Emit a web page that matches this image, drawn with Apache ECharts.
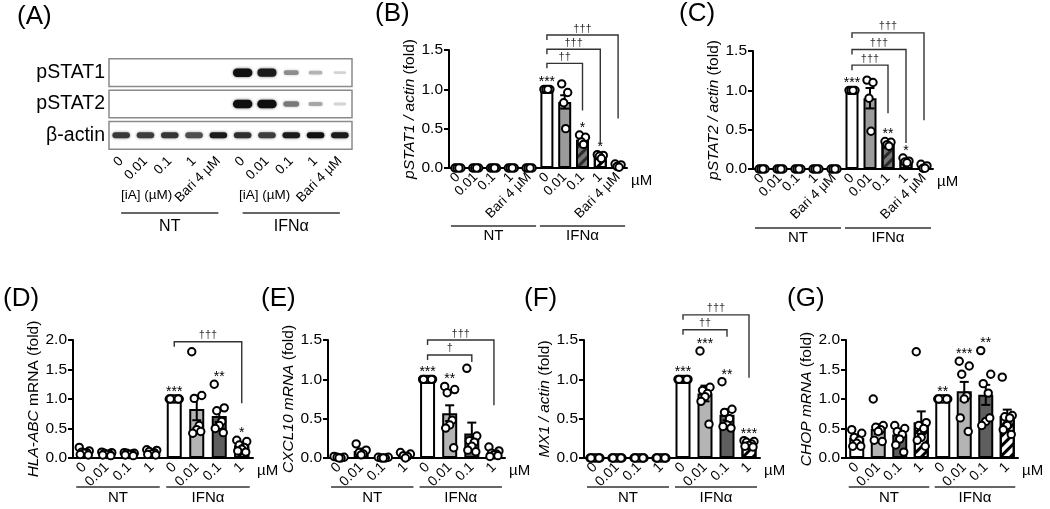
<!DOCTYPE html>
<html><head><meta charset="utf-8">
<script src="https://cdn.jsdelivr.net/npm/echarts@6/dist/echarts.min.js"></script>
<style>html,body{margin:0;padding:0;background:#fff}#c{width:1050px;height:509px}</style>
</head><body><div id="c"></div>
<script>
// ================= DATA =================
// Panel A: western blot band intensities (0 = no band, 1 = darkest)
const blotLanes = ['0','0.01','0.1','1','Bari 4 µM','0','0.01','0.1','1','Bari 4 µM'];
const blotRows = ['pSTAT1','pSTAT2','β-actin'];
const bandPSTAT1 = [0,0,0,0,0,1.0,0.95,0.4,0.22,0.06];
const bandPSTAT2 = [0,0,0,0,0,1.0,1.0,0.5,0.28,0.06];
const bandActin  = [0.8,0.78,0.82,0.7,0.95,0.85,0.78,0.95,1.0,0.95];
const groupNames = ['NT','IFNα'];

// Panels B, C categories
const catsTop = ['0','0.01','0.1','1','Bari 4 µM','0','0.01','0.1','1','Bari 4 µM'];
// Panel B: pSTAT1 / actin
const meanB = [0,0,0,0,0,1.0,0.84,0.36,0.15,0.03];
const semB  = [0,0,0,0,0,0,0.085,0.03,0.015,0.01];
const ptsB = [[0,0,0,0],[0,0,0,0],[0,0,0,0],[0,0,0,0],[0,0,0,0],
  [1,1,1,1],[1.07,0.96,0.83,0.5],[0.42,0.39,0.33,0.3],[0.17,0.16,0.15,0.12],[0.05,0.04,0.02,0.01]];
const starsB = ['','','','','','***','','*','*',''];
const bracketsB = [[5,7,1.33,0.73],[5,8,1.51,0.31],[5,9,1.69,0.63]];
const bracketTextB = ['††','†††','†††'];

// Panel C: pSTAT2 / actin
const meanC = [0,0,0,0,0,1.0,0.9,0.32,0.1,0.03];
const semC  = [0,0,0,0,0,0,0.13,0.02,0.015,0.012];
const ptsC = [[0,0,0,0],[0,0,0,0],[0,0,0,0],[0,0,0,0],[0,0,0,0],
  [1,1,1,1],[1.13,1.1,0.9,0.48],[0.35,0.34,0.31,0.29],[0.14,0.1,0.09,0.08],[0.06,0.04,0.01,0.01]];
const starsC = ['','','','','','***','','**','*',''];
const bracketsC = [[5,7,1.32,0.71],[5,8,1.52,0.33],[5,9,1.73,0.62]];
const bracketTextC = ['†††','†††','†††'];

// Panels D-G categories
const catsBottom = ['0','0.01','0.1','1','0','0.01','0.1','1'];
// Panel D: HLA-ABC mRNA
const meanD = [0.1,0.07,0.07,0.09,1.0,0.83,0.71,0.21];
const semD  = [0.02,0.01,0.01,0.015,0,0.19,0.1,0.03];
const ptsD = [[0.18,0.12,0.1,0.09,0.08,0.06,0.05],[0.1,0.09,0.08,0.07,0.06,0.05,0.04],
  [0.09,0.08,0.08,0.07,0.06,0.05,0.04],[0.14,0.13,0.11,0.09,0.07,0.06,0.05],
  [1,1,1,1,1,1,1],[1.8,1.06,1.01,0.55,0.48,0.42,0.45],[1.25,0.85,0.8,0.62,0.55,0.5,0.43],
  [0.3,0.28,0.22,0.18,0.15,0.12,0.1]];
const starsD = ['','','','','***','','**','*'];
const bracketsD = [[4,7,1.97,0.93]];
const bracketTextD = ['†††'];

// Panel E: CXCL10 mRNA
const meanE = [0.01,0.09,0.01,0.03,1.0,0.57,0.31,0.06];
const semE  = [0.005,0.03,0.003,0.012,0,0.1,0.14,0.02];
const ptsE = [[0.02,0.01,0.01,0,0],[0.18,0.1,0.07,0.05,0.04],[0.01,0.01,0,0,0],[0.07,0.05,0.03,0.02,0],
  [1,1,1,1,1,1,1],[0.91,0.87,0.83,0.48,0.42,0.38,0.13],[1.14,0.28,0.22,0.2,0.15,0.1,0.08],
  [0.14,0.09,0.06,0.05,0.04,0.02,0.03]];
const starsE = ['','','','','***','**','',''];
const bracketsE = [[4,6,1.31,1.22],[4,7,1.5,0.67]];
const bracketTextE = ['†','†††'];

// Panel F: MX1 / actin
const meanF = [0,0,0,0,1.0,0.82,0.55,0.18];
const semF  = [0,0,0,0,0,0.1,0.07,0.015];
const ptsF = [[0,0,0,0,0,0,0],[0,0,0,0,0,0,0],[0,0,0,0,0,0,0],[0,0,0,0,0,0,0],
  [1,1,1,1,1,1,1],[1.36,0.9,0.86,0.82,0.78,0.72,0.43],[0.97,0.62,0.58,0.5,0.42,0.4,0.38],
  [0.22,0.21,0.2,0.18,0.16,0.15,0.14]];
const starsF = ['','','','','***','***','**','***'];
const bracketsF = [[4,6,1.63,1.54],[4,7,1.82,1.02]];
const bracketTextF = ['††','†††'];

// Panel G: CHOP mRNA
const meanG = [0.34,0.49,0.4,0.6,1.0,1.13,1.07,0.71];
const semG  = [0.05,0.08,0.07,0.19,0,0.16,0.17,0.11];
const ptsG = [[0.48,0.42,0.35,0.3,0.25,0.2,0.2],[1.0,0.55,0.52,0.48,0.45,0.3,0.28],
  [0.55,0.5,0.45,0.4,0.32,0.22,0.1],[1.8,0.6,0.55,0.5,0.35,0.3,0.2],
  [1,1,1,1,1,1,1],[1.64,1.56,1.42,1.05,1.0,0.68,0.45],[1.82,1.42,1.26,1.1,0.62,0.55,0.68],
  [1.37,0.72,0.7,0.68,0.55,0.48,0.4]];
const starsG = ['','','','','**','***','**',''];

// ================= STYLE / LAYOUT =================
const FONT = '"Liberation Sans", Arial, Helvetica, sans-serif';
const hatch = (c) => ({symbol:'rect', symbolSize:1, color:c, dashArrayX:[1,0], dashArrayY:[3,3.5], rotation:-Math.PI/4});
const STY = {
  white:{color:'#ffffff'},
  gray:{color:'#9b9b9b'},
  light:{color:'#b4b4b4'},
  dark:{color:'#5e5e5e'},
  darkHatch:{color:'#777777', decal:hatch('#2a2a2a')},
  whiteHatch:{color:'#ffffff', decal:hatch('#000000')}
};
const FILL_TOP = ['white','gray','darkHatch','whiteHatch','white','white','gray','darkHatch','whiteHatch','white'];
const FILL_BOT = ['white','light','dark','whiteHatch','white','light','dark','whiteHatch'];
const JIT = {4:[-3,3,-1,1],5:[-5,5,-2,2,0],7:[-5,5,-2.5,2.5,0,-4,4]};

const grids=[], xAxes=[], yAxes=[], series=[];

function addPanel(p) {
  const gi = grids.length;
  grids.push({left:p.left, top:p.top, width:p.width, height:p.height, containLabel:false});
  xAxes.push({gridIndex:gi, type:'category', data:p.cats,
    axisLine:{lineStyle:{color:'#000', width:2}}, axisTick:{show:false},
    axisLabel:{rotate:45, interval:0, fontSize:p.catFont, color:'#000', fontFamily:FONT, margin:7},
    name:'µM', nameLocation:'end', nameGap:4,
    nameTextStyle:{fontSize:15, color:'#000', fontFamily:FONT, verticalAlign:'top', padding:[5,0,0,0]}});
  yAxes.push({gridIndex:gi, type:'value', min:0, max:p.ymax, interval:0.5,
    splitLine:{show:false},
    axisLine:{show:true, lineStyle:{color:'#000', width:2}},
    axisTick:{show:true, length:5, lineStyle:{color:'#000', width:2}},
    axisLabel:{formatter:v=>v.toFixed(1), fontSize:15.5, color:'#000', fontFamily:FONT, margin:6},
    name:p.yname, nameLocation:'middle', nameGap:26,
    nameTextStyle:{fontSize:15.5, color:'#000', fontFamily:FONT,
      rich:{i:{fontStyle:'italic', fontSize:15.5, color:'#000', fontFamily:FONT}}}});
  // bars
  series.push({type:'bar', xAxisIndex:gi, yAxisIndex:gi, barWidth:p.barWidth, silent:true, z:2,
    data:p.mean.map((v,i)=>({value:v, itemStyle:Object.assign({borderColor:'#000', borderWidth:2}, STY[p.fills[i]])}))});
  // error bars (mean ± SEM)
  series.push({type:'custom', xAxisIndex:gi, yAxisIndex:gi, silent:true, z:3,
    data:p.mean.map((m,i)=>[i,m,p.sem[i]]),
    renderItem:(params,api)=>{
      const s = api.value(2); if (!s) return null;
      const i = api.value(0), m = api.value(1);
      const t = api.coord([i,m+s]), b = api.coord([i,Math.max(0,m-s)]);
      const st = {stroke:'#000', lineWidth:2};
      return {type:'group', children:[
        {type:'line', shape:{x1:t[0],y1:t[1],x2:b[0],y2:b[1]}, style:st},
        {type:'line', shape:{x1:t[0]-4.5,y1:t[1],x2:t[0]+4.5,y2:t[1]}, style:st},
        {type:'line', shape:{x1:b[0]-4.5,y1:b[1],x2:b[0]+4.5,y2:b[1]}, style:st}]};
    }});
  // individual points
  const pd=[]; p.pts.forEach((arr,i)=>arr.forEach((v,k)=>pd.push([i,v,k,arr.length])));
  series.push({type:'custom', xAxisIndex:gi, yAxisIndex:gi, silent:true, z:4, clip:false, data:pd,
    renderItem:(params,api)=>{
      const c = api.coord([api.value(0), api.value(1)]);
      const off = (JIT[api.value(3)]||JIT[7])[api.value(2)]||0;
      return {type:'circle', shape:{cx:c[0]+off, cy:c[1], r:3.7}, style:{fill:'#fff', stroke:'#000', lineWidth:2}};
    }});
  // significance stars
  const sd=[]; p.stars.forEach((s,i)=>{ if(s) sd.push([i, Math.max(Math.max.apply(null,p.pts[i]), p.mean[i]+p.sem[i])]); });
  series.push({type:'custom', xAxisIndex:gi, yAxisIndex:gi, silent:true, z:5, clip:false, data:sd,
    renderItem:(params,api)=>{
      const i = api.value(0); const c = api.coord([i, api.value(1)]);
      return {type:'text', x:c[0], y:c[1]-7, style:{text:p.stars[i], fill:'#000', font:'14px '+FONT, align:'center', verticalAlign:'middle'}};
    }});
  // brackets
  if (p.brackets) {
    series.push({type:'custom', xAxisIndex:gi, yAxisIndex:gi, silent:true, z:5, clip:false,
      data:p.brackets.map((b,k)=>[b[0],b[2],b[1],b[3],k]),
      renderItem:(params,api)=>{
        const f=api.value(0), top=api.value(1), to=api.value(2), end=api.value(3), k=api.value(4);
        const a=api.coord([f,top]), b=api.coord([to,top]), e=api.coord([to,end]);
        return {type:'group', children:[
          {type:'polyline', shape:{points:[[a[0],a[1]+5],[a[0],a[1]],[b[0],b[1]],[e[0],e[1]]]}, style:{stroke:'#333', lineWidth:1.4, fill:null}},
          {type:'text', x:(a[0]+b[0])/2, y:a[1]-1, style:{text:p.bracketText[k], fill:'#333', font:'11px '+FONT, align:'center', verticalAlign:'bottom'}}]};
      }});
  }
  addGroups(gi, p.cats.length, p.grp);
}

function addGroups(gi, n, g) {
  const h = n/2;
  series.push({type:'custom', xAxisIndex:gi, yAxisIndex:gi, silent:true, clip:false, z:5,
    data:[[0,h-1,0],[h,n-1,1]],
    renderItem:(params,api)=>{
      const a=api.coord([api.value(0),0]), b=api.coord([api.value(1),0]);
      const cs=params.coordSys; const y=cs.y+cs.height+g.line;
      return {type:'group', children:[
        {type:'line', shape:{x1:a[0]-g.ext,y1:y,x2:b[0]+g.ext,y2:y}, style:{stroke:'#333', lineWidth:1.5}},
        {type:'text', x:(a[0]+b[0])/2, y:y+g.text, style:{text:groupNames[api.value(2)], fill:'#000', font:g.font+'px '+FONT, align:'center', verticalAlign:'top'}}]};
    }});
}

// ----- Panel A: blot grid -----
grids.push({left:109, top:57, width:243, height:94, containLabel:false});
xAxes.push({gridIndex:0, type:'category', data:blotLanes, axisLine:{show:false}, axisTick:{show:false},
  axisLabel:{rotate:45, interval:0, fontSize:13.5, color:'#000', fontFamily:FONT, margin:8}});
yAxes.push({gridIndex:0, type:'category', data:blotRows, inverse:true, axisLine:{show:false}, axisTick:{show:false},
  axisLabel:{fontSize:19.5, color:'#000', fontFamily:FONT, margin:4}});
const bandData=[];
[bandPSTAT1,bandPSTAT2,bandActin].forEach((row,r)=>row.forEach((v,l)=>bandData.push([l,r,v])));
series.push({type:'custom', xAxisIndex:0, yAxisIndex:0, silent:true, z:2, data:[[0,0],[0,1],[0,2]],
  renderItem:(params,api)=>{
    const c=api.coord([0,api.value(1)]); const h=api.size([1,1])[1]; const cs=params.coordSys;
    return {type:'rect', shape:{x:cs.x, y:c[1]-h/2+1.8, width:cs.width, height:h-3.6}, style:{fill:'#fff', stroke:'#8a8a8a', lineWidth:1.5}};
  }});
series.push({type:'custom', xAxisIndex:0, yAxisIndex:0, silent:true, z:3, data:bandData,
  renderItem:(params,api)=>{
    const v=api.value(2); if (v<=0) return null;
    const r=api.value(1); const c=api.coord([api.value(0), r]); const sz=api.size([1,1]);
    const actin = r===2;
    const w = sz[0]*(actin?0.72:(0.5+0.3*v));
    const h = actin?6:(2.5+6*v);
    const g = Math.round(15+(1-v)*210);
    return {type:'rect', shape:{x:c[0]-w/2, y:c[1]-h/2, width:w, height:h, r:h/2},
      style:{fill:'rgb('+g+','+g+','+g+')', shadowBlur:3, shadowColor:'rgba(0,0,0,'+(0.6*v)+')'}};
  }});
addGroups(0, blotLanes.length, {line:62, ext:0, text:6, font:16});

// ----- Panels B-G -----
addPanel({left:449, top:50, width:178, height:118, ymax:1.5, cats:catsTop, catFont:13.5, barWidth:13, fills:FILL_TOP,
  yname:'{i|pSTAT1 / actin} (fold)', mean:meanB, sem:semB, pts:ptsB, stars:starsB, brackets:bracketsB, bracketText:bracketTextB,
  grp:{line:58, ext:7, text:2, font:15}});
addPanel({left:753, top:51, width:180, height:118, ymax:1.5, cats:catsTop, catFont:13.5, barWidth:13, fills:FILL_TOP,
  yname:'{i|pSTAT2 / actin} (fold)', mean:meanC, sem:semC, pts:ptsC, stars:starsC, brackets:bracketsC, bracketText:bracketTextC,
  grp:{line:59, ext:7, text:2, font:15}});
const GB = {line:29, ext:8, text:3, font:15};
addPanel({left:73, top:340, width:180, height:118, ymax:2.0, cats:catsBottom, catFont:14, barWidth:15, fills:FILL_BOT,
  yname:'{i|HLA-ABC} mRNA (fold)', mean:meanD, sem:semD, pts:ptsD, stars:starsD, brackets:bracketsD, bracketText:bracketTextD, grp:GB});
addPanel({left:328, top:340, width:177, height:118, ymax:1.5, cats:catsBottom, catFont:14, barWidth:15, fills:FILL_BOT,
  yname:'{i|CXCL10 mRNA} (fold)', mean:meanE, sem:semE, pts:ptsE, stars:starsE, brackets:bracketsE, bracketText:bracketTextE, grp:GB});
addPanel({left:584, top:340, width:176, height:118, ymax:1.5, cats:catsBottom, catFont:14, barWidth:15, fills:FILL_BOT,
  yname:'{i|MX1 / actin} (fold)', mean:meanF, sem:semF, pts:ptsF, stars:starsF, brackets:bracketsF, bracketText:bracketTextF, grp:GB});
addPanel({left:846, top:340, width:172, height:118, ymax:2.0, cats:catsBottom, catFont:14, barWidth:15, fills:FILL_BOT,
  yname:'{i|CHOP mRNA} (fold)', mean:meanG, sem:semG, pts:ptsG, stars:starsG, grp:GB});

const txt = (t,x,y,size) => ({type:'text', left:x, top:y, silent:true, style:{text:t, font:size+'px '+FONT, fill:'#000'}});
const graphic = [
  txt('(A)',17,4,26), txt('(B)',375,1,26), txt('(C)',679,1,26),
  txt('(D)',3,286,26), txt('(E)',261,286,26), txt('(F)',524,286,26), txt('(G)',787,286,26),
  txt('[iA] (µM)',121,188,13.5), txt('[iA] (µM)',239,188,13.5)
];

const chart = echarts.init(document.getElementById('c'));
chart.setOption({animation:false, backgroundColor:'#fff', textStyle:{fontFamily:FONT},
  grid:grids, xAxis:xAxes, yAxis:yAxes, series:series, graphic:graphic});
</script></body></html>
